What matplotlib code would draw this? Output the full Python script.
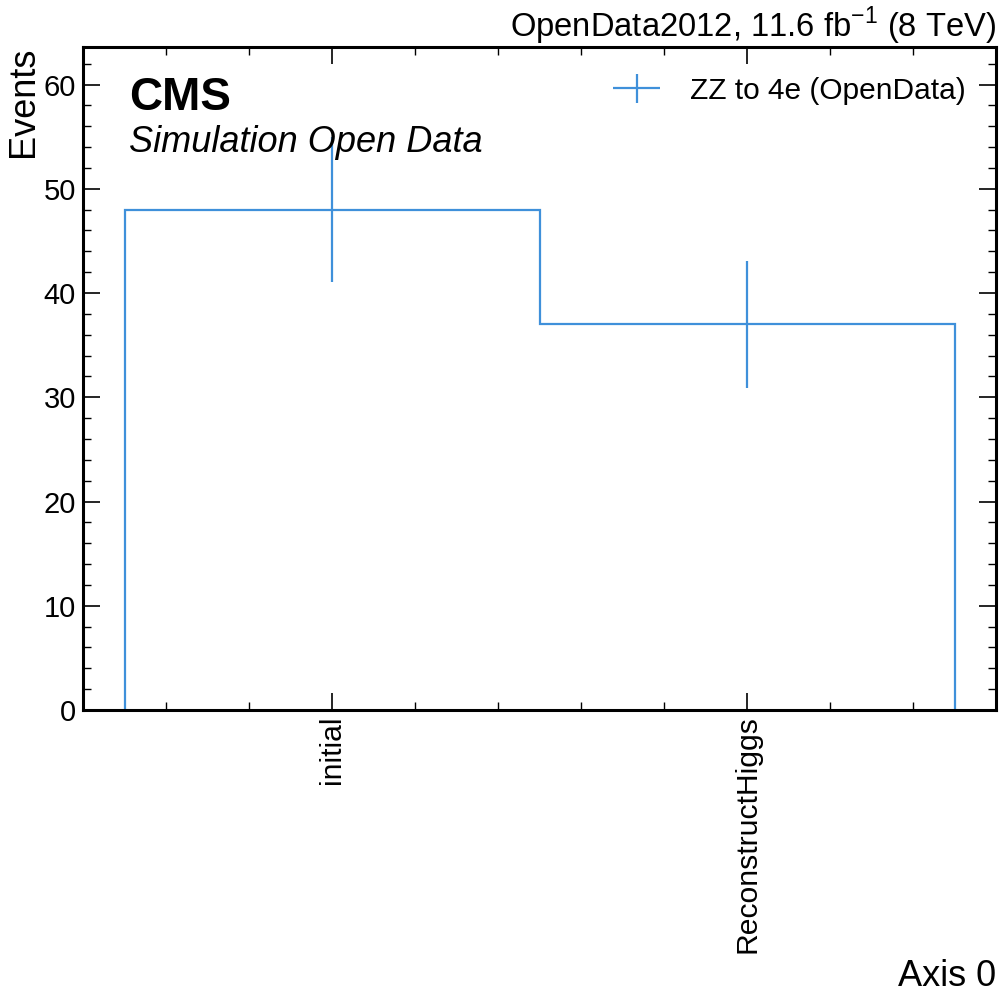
import numpy as np
import matplotlib
matplotlib.use("Agg")
import matplotlib.pyplot as plt
from matplotlib.ticker import MultipleLocator
from matplotlib.legend_handler import HandlerErrorbar

categories = ["initial", "ReconstructHiggs"]
counts = [48, 37]
errors = [float(np.sqrt(c)) for c in counts]
series_label = "ZZ to 4e (OpenData)"
color = "#3f90da"

plt.rcParams['font.family'] = ['Liberation Sans', 'DejaVu Sans']
plt.rcParams['mathtext.fontset'] = 'custom'
plt.rcParams['mathtext.rm'] = 'Liberation Sans'

fig = plt.figure(figsize=(10, 10), dpi=100)
ax = fig.add_axes([0.083, 0.29, 0.913, 0.663])

edges = np.arange(len(categories) + 1)
centers = edges[:-1] + 0.5
ax.stairs(counts, edges, color=color, lw=1.6, baseline=0)
ax.errorbar(centers, counts, yerr=errors, fmt='none', ecolor=color, elinewidth=1.6)
h = ax.errorbar([], [], xerr=[], yerr=[], fmt='none', ecolor=color, elinewidth=1.6, label=series_label)

ax.set_xlim(-0.1, len(categories) + 0.1)
ax.set_ylim(0, 63.6)
ax.set_xticks(centers)
ax.set_xticklabels(categories, rotation=90)
ax.xaxis.set_minor_locator(MultipleLocator(0.2, offset=0.1))
ax.yaxis.set_major_locator(MultipleLocator(10))
ax.yaxis.set_minor_locator(MultipleLocator(2))

for s in ax.spines.values():
    s.set_linewidth(2.2)
ax.tick_params(which='both', direction='in', top=True, right=True, labelsize=21)
ax.tick_params(axis='x', which='major', labelsize=21.7)
ax.tick_params(which='major', length=12, width=1.2)
ax.tick_params(which='minor', length=6, width=1.0)
ax.tick_params(axis='x', which='major', pad=4)
ax.tick_params(axis='y', which='major', pad=5)

ax.set_ylabel("Events", fontsize=26, loc='top', labelpad=2)
ax.set_xlabel("Axis 0", fontsize=26, loc='right')

ax.legend(handles=[h], loc='upper right', fontsize=21.5, frameon=False,
          handlelength=2.4, handletextpad=0.6, borderaxespad=0.6,
          handler_map={type(h): HandlerErrorbar(xerr_size=0.79, yerr_size=0.49)})

ax.text(0.05, 0.905, "CMS", transform=ax.transAxes, fontsize=33, fontweight='bold', va='baseline')
ax.text(0.05, 0.842, "Simulation Open Data", transform=ax.transAxes, fontsize=26, style='italic', va='baseline')
ax.set_title(r"OpenData2012, 11.6 fb$^{-1}$ (8 TeV)", loc='right', fontsize=23.6, pad=4)

fig.savefig("out.png", dpi=100)
